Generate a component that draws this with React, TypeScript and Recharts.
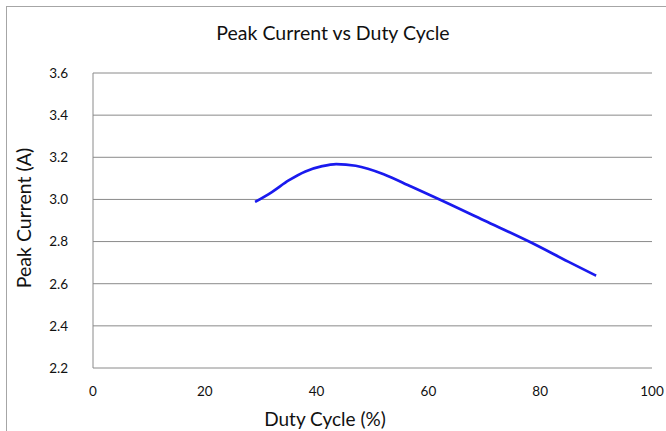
import { LineChart, Line, XAxis, YAxis, CartesianGrid } from 'recharts';

const dutyCycle = [29, 32, 35, 38, 41, 43.5, 47, 52, 57, 62, 70, 78, 85, 90];
const peakCurrent = [2.988, 3.035, 3.09, 3.133, 3.158, 3.168, 3.16, 3.12, 3.06, 3.0, 2.9, 2.8, 2.705, 2.638];
const xTicks = [0, 20, 40, 60, 80, 100];
const yTicks = [2.2, 2.4, 2.6, 2.8, 3.0, 3.2, 3.4, 3.6];

const data = dutyCycle.map((d, i) => ({ duty: d, current: peakCurrent[i] }));

const font = 'Lato, "Open Sans", sans-serif';

export default function App() {
  return (
    <div style={{ position: 'fixed', top: 0, left: 0, width: 666, height: 431, background: '#fff', overflow: 'hidden', fontFamily: font }}>
      <div style={{ position: 'absolute', left: 6, top: 6, width: 700, height: 500, border: '1px solid #a6a6a6' }} />
      <LineChart
        width={666}
        height={431}
        data={data}
        margin={{ top: 73, right: 14, bottom: 0, left: 0 }}
        style={{ position: 'absolute', left: 0, top: 0 }}
      >
        <CartesianGrid vertical={false} stroke="#8a8a8a" />
        <XAxis
          dataKey="duty"
          type="number"
          domain={[0, 100]}
          ticks={xTicks}
          height={63}
          axisLine={false}
          tickLine={false}
          tickSize={0}
          tickMargin={18}
          tick={{ fill: '#111', fontSize: 13.5, fontFamily: font }}
        />
        <YAxis
          type="number"
          domain={[2.2, 3.6]}
          ticks={yTicks}
          width={93}
          axisLine={{ stroke: '#8a8a8a' }}
          tickLine={false}
          tickSize={0}
          tickMargin={25}
          tickFormatter={(v: number) => v.toFixed(1)}
          tick={{ fill: '#111', fontSize: 13.5, fontFamily: font }}
        />
        <Line
          type="monotone"
          dataKey="current"
          stroke="#1a1aee"
          strokeWidth={2.7}
          dot={false}
          isAnimationActive={false}
        />
      </LineChart>
      <div style={{ position: 'absolute', left: 0, width: 666, top: 21, textAlign: 'center', fontSize: 19.5, color: '#111' }}>
        Peak Current vs Duty Cycle
      </div>
      <div style={{ position: 'absolute', left: 225, width: 200, top: 407, textAlign: 'center', fontSize: 19, color: '#111' }}>
        Duty Cycle (%)
      </div>
      <div
        style={{
          position: 'absolute',
          left: 23,
          top: 218,
          transform: 'translate(-50%, -50%) rotate(-90deg)',
          whiteSpace: 'nowrap',
          fontSize: 19.5,
          color: '#111',
        }}
      >
        Peak Current (A)
      </div>
    </div>
  );
}
